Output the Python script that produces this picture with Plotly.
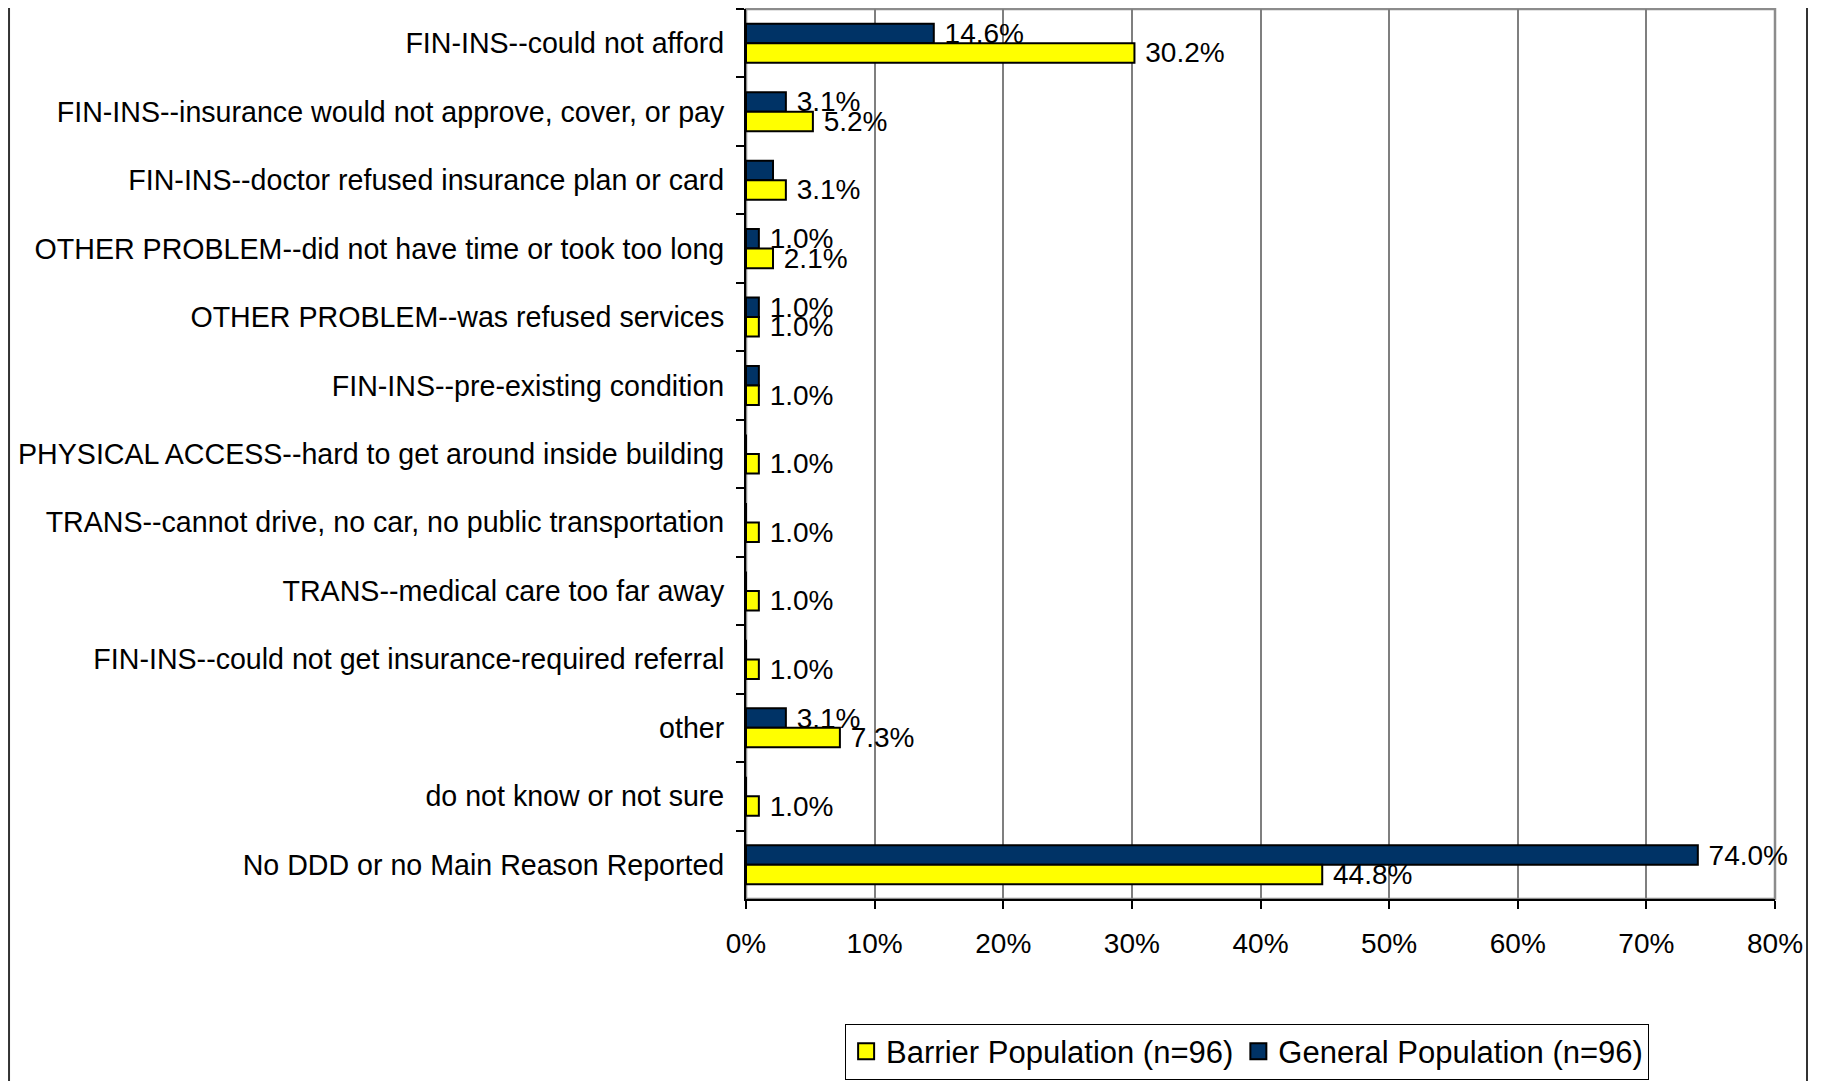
import plotly.graph_objects as go

categories = [
    "FIN-INS--could not afford",
    "FIN-INS--insurance would not approve, cover, or pay",
    "FIN-INS--doctor refused insurance plan or card",
    "OTHER PROBLEM--did not have time or took too long",
    "OTHER PROBLEM--was refused services",
    "FIN-INS--pre-existing condition",
    "PHYSICAL ACCESS--hard to get around inside building",
    "TRANS--cannot drive, no car, no public transportation",
    "TRANS--medical care too far away",
    "FIN-INS--could not get insurance-required referral",
    "other",
    "do not know or not sure",
    "No DDD or no Main Reason Reported",
]

general = [14.6, 3.1, 2.1, 1.0, 1.0, 1.0, 0, 0, 0, 0, 3.1, 0, 74.0]
barrier = [30.2, 5.2, 3.1, 2.1, 1.0, 1.0, 1.0, 1.0, 1.0, 1.0, 7.3, 1.0, 44.8]

# labels visible in the original (some are hidden by overlap)
general_labels = ["14.6%", "3.1%", "", "1.0%", "1.0%", "", "", "", "", "", "3.1%", "", "74.0%"]
barrier_labels = ["30.2%", "5.2%", "3.1%", "2.1%", "1.0%", "1.0%", "1.0%", "1.0%", "1.0%",
                  "1.0%", "7.3%", "1.0%", "44.8%"]

tick_vals = [0, 10, 20, 30, 40, 50, 60, 70, 80]
tick_text = ["0%", "10%", "20%", "30%", "40%", "50%", "60%", "70%", "80%"]

FONT = "Liberation Sans, Arial, sans-serif"
NAVY = "#003366"
YELLOW = "#FFFF00"

fig = go.Figure()
fig.add_trace(go.Bar(
    y=categories, x=general, orientation="h",
    name="General Population (n=96)", showlegend=False,
    marker=dict(color=NAVY, line=dict(color="black", width=2)),
    text=general_labels, texttemplate=" %{text}", textposition="outside",
    constraintext="none", cliponaxis=False,
    textfont=dict(family=FONT, size=28, color="black"),
))
fig.add_trace(go.Bar(
    y=categories, x=barrier, orientation="h",
    name="Barrier Population (n=96)", showlegend=False,
    marker=dict(color=YELLOW, line=dict(color="black", width=2)),
    text=barrier_labels, texttemplate=" %{text}", textposition="outside",
    constraintext="none", cliponaxis=False,
    textfont=dict(family=FONT, size=28, color="black"),
))

# legend entries with bigger square swatches
for name, col in [("Barrier Population (n=96)", YELLOW), ("General Population (n=96)", NAVY)]:
    fig.add_trace(go.Scatter(
        x=[None], y=[None], mode="markers", name=name,
        marker=dict(symbol="square", size=16, color=col, line=dict(color="black", width=2)),
    ))

# page body has an 8px margin, so the figure is 8px smaller than the window
fig.update_layout(
    width=1816, height=1073,
    margin=dict(l=738, r=49, t=1, b=178),
    paper_bgcolor="white", plot_bgcolor="white",
    barmode="group", bargap=0.43, bargroupgap=0,
    font=dict(family=FONT, size=28, color="black"),
    showlegend=True,
    legend=dict(
        orientation="h", traceorder="normal",
        x=0.487, xanchor="center", y=-0.14, yanchor="top",
        bordercolor="black", borderwidth=1,
        font=dict(family=FONT, size=31, color="black"),
        itemwidth=30, tracegroupgap=0,
    ),
    shapes=[
        dict(type="rect", xref="paper", yref="paper", x0=0, x1=1, y0=0, y1=1,
             line=dict(color="#8c8c8c", width=2.5), layer="below"),
        dict(type="line", xref="paper", yref="paper", x0=-0.7162, x1=-0.7162, y0=-0.3, y1=1.1,
             line=dict(color="#333333", width=2)),
        dict(type="line", xref="paper", yref="paper", x0=1.0311, x1=1.0311, y0=-0.3, y1=1.1,
             line=dict(color="#333333", width=2)),
    ],
)

fig.update_xaxes(
    range=[0, 80], tickvals=tick_vals, ticktext=tick_text,
    showgrid=True, gridcolor="#7f7f7f", gridwidth=1.5,
    showline=True, linecolor="black", linewidth=2,
    ticks="outside", ticklen=8, tickwidth=2, tickcolor="black",
    ticklabelstandoff=10, zeroline=False,
    tickfont=dict(family=FONT, size=28, color="black"),
)
fig.update_yaxes(
    autorange="reversed", showgrid=False,
    showline=True, linecolor="black", linewidth=2,
    ticks="outside", ticklen=8, tickwidth=2, tickcolor="black",
    tickson="boundaries", ticklabelstandoff=14,
    tickfont=dict(family=FONT, size=28.6, color="black"),
)

fig.write_html("out.html")
